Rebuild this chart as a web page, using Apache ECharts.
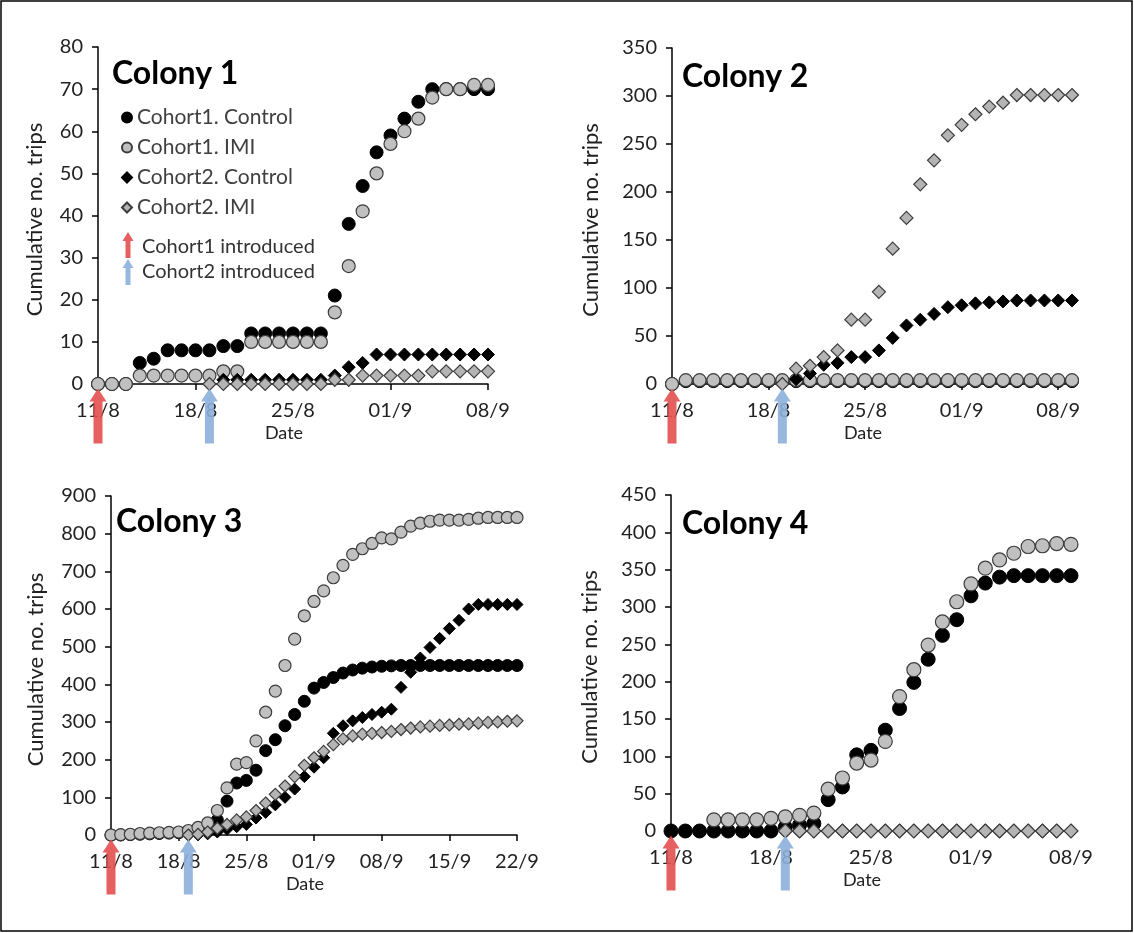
<!DOCTYPE html>
<html><head><meta charset="utf-8">
<script src="https://cdn.jsdelivr.net/npm/echarts@6/dist/echarts.min.js"></script>
<style>html,body{margin:0;padding:0;background:#fff}#c{width:1134px;height:933px}</style>
</head><body><div id="c"></div>
<script>
// ---------- data ----------
const seriesNames = ['Cohort1. Control', 'Cohort1. IMI', 'Cohort2. Control', 'Cohort2. IMI'];
const colonyTitles = ['Colony 1', 'Colony 2', 'Colony 3', 'Colony 4'];
const tickLabelsShort = ['11/8', '18/8', '25/8', '01/9', '08/9'];
const tickLabelsLong = ['11/8', '18/8', '25/8', '01/9', '08/9', '15/9', '22/9'];
const introDays = [0, 8];           // Cohort1 introduced 11/8, Cohort2 introduced 19/8
const introLabels = ['Cohort1 introduced', 'Cohort2 introduced'];
const lastDay = [28, 29, 42, 28];   // day index of the last date on each x axis (day 0 = 11/8)
const yMax = [80, 350, 900, 450];
const yStep = [10, 50, 100, 50];

// Colony 1 (day 0 = 11/8)
const c1Cohort1Control = [0,0,0,5,6,8,8,8,8,9,9,12,12,12,12,12,12,21,38,47,55,59,63,67,70,70,70,70,70];
const c1Cohort1IMI     = [0,0,0,2,2,2,2,2,2,3,3,10,10,10,10,10,10,17,28,41,50,57,60,63,68,70,70,71,71];
const c1Cohort2Control = [null,null,null,null,null,null,null,null,0,1,1,1,1,1,1,1,1,2,4,5,7,7,7,7,7,7,7,7,7];
const c1Cohort2IMI     = [null,null,null,null,null,null,null,null,0,0,0,0,0,0,0,0,0,1,1,2,2,2,2,2,3,3,3,3,3];

// Colony 2
const c2Cohort1Control = [0,3,3,3,3,3,3,3,3,3,3,3,3,3,3,3,3,3,3,3,3,3,3,3,3,3,3,3,3,3];
const c2Cohort1IMI     = [0,4,4,4,4,4,4,4,4,4,4,4,4,4,4,4,4,4,4,4,4,4,4,4,4,4,4,4,4,4];
const c2Cohort2Control = [null,null,null,null,null,null,null,null,0,5,11,20,22,28,28,35,48,61,67,73,80,82,84,85,86,87,87,87,87,87];
const c2Cohort2IMI     = [null,null,null,null,null,null,null,null,0,16,19,28,35,67,67,96,141,173,208,233,259,270,281,289,293,301,301,301,301,301];

// Colony 3
const c3Cohort1Control = [0,0,1,2,3,4,5,6,8,12,20,40,90,138,145,172,224,253,290,320,355,390,405,418,430,438,443,446,448,449,450,450,450,450,450,450,450,450,450,450,450,450,450];
const c3Cohort1IMI     = [0,1,2,4,5,6,7,8,12,20,32,65,125,188,192,250,326,382,450,520,582,620,648,683,716,745,760,774,789,786,804,820,828,833,836,836,836,838,841,843,843,843,843];
const c3Cohort2Control = [null,null,null,null,null,null,null,null,0,0,3,8,15,22,28,45,60,80,100,122,155,180,205,270,290,303,312,320,326,334,392,432,470,498,522,548,570,600,612,612,612,612,612];
const c3Cohort2IMI     = [null,null,null,null,null,null,null,null,0,2,8,18,28,40,48,65,85,108,130,155,185,205,222,240,255,263,268,270,272,275,280,284,287,289,291,292,294,295,297,299,300,302,303];

// Colony 4
const c4Cohort1Control = [0,0,0,0,0,0,0,0,5,8,10,42,59,102,108,135,164,199,230,262,283,315,332,340,342,342,342,342,342];
const c4Cohort1IMI     = [null,null,null,15,15,15,15,17,19,21,24,56,71,91,95,120,180,216,249,280,307,331,352,363,372,381,382,385,384];
const c4Cohort2Control = [null,null,null,null,null,null,null,null,0,0,0,0,0,0,0,0,0,0,0,0,0,0,0,0,0,0,0,0,0];
const c4Cohort2IMI     = [null,null,null,null,null,null,null,null,0,0,0,0,0,0,0,0,0,0,0,0,0,0,0,0,0,0,0,0,0];

const colonies = [
  [c1Cohort1Control, c1Cohort1IMI, c1Cohort2Control, c1Cohort2IMI],
  [c2Cohort1Control, c2Cohort1IMI, c2Cohort2Control, c2Cohort2IMI],
  [c3Cohort1Control, c3Cohort1IMI, c3Cohort2Control, c3Cohort2IMI],
  [c4Cohort1Control, c4Cohort1IMI, c4Cohort2Control, c4Cohort2IMI]
];
const tickSets = [tickLabelsShort, tickLabelsShort, tickLabelsLong, tickLabelsShort];

// ---------- layout / style ----------
const FONT = 'Lato';
const grids = [
  {left: 98,  top: 47,  width: 390, height: 337},
  {left: 672, top: 48,  width: 400, height: 336},
  {left: 111, top: 496, width: 406, height: 339},
  {left: 671, top: 495, width: 400, height: 336}
];
const markerSize = [13, 13, 12, 14];
const yNameGap = [52, 70, 64, 70];
const titlePos = [[112, 58], [682, 61], [116, 506], [682, 508]];
const styles = [
  {symbol: 'circle',  color: '#000000', borderColor: '#000000', borderWidth: 1},
  {symbol: 'circle',  color: '#c0c0c0', borderColor: '#3c3c3c', borderWidth: 1.2},
  {symbol: 'diamond', color: '#000000', borderColor: '#000000', borderWidth: 1},
  {symbol: 'diamond', color: '#b4b4b4', borderColor: '#3c3c3c', borderWidth: 1.2}
];
const arrowColors = ['#e44f4f', '#8cafdc'];
const arrowPath = 'path://M8.5,0 L17,13 L13,13 L13,55 L4,55 L4,13 L0,13 Z';

const toPairs = arr => arr.map((v, i) => [i, v]).filter(p => p[1] != null);

const xAxes = [], yAxes = [], series = [];
grids.forEach((g, k) => {
  const ticks = tickSets[k];
  const tickVals = ticks.map((_, i) => i * 7);
  xAxes.push({
    gridIndex: k, type: 'value', min: 0, max: lastDay[k], interval: 7,
    name: 'Date', nameLocation: 'middle', nameGap: 40,
    nameTextStyle: {fontFamily: FONT, fontSize: 18, color: '#222', padding: [0, 18, 0, 0]},
    axisLine: {show: true, onZero: false, lineStyle: {color: '#000', width: 1.5}},
    axisTick: {show: true, inside: false, length: 6, customValues: tickVals, lineStyle: {color: '#000', width: 1.5}},
    axisLabel: {customValues: tickVals, margin: 17, fontFamily: FONT, fontSize: 20, color: '#222',
      formatter: v => ticks[Math.round(v / 7)] || ''},
    splitLine: {show: false}
  });
  yAxes.push({
    gridIndex: k, type: 'value', min: 0, max: yMax[k], interval: yStep[k],
    name: 'Cumulative no. trips', nameLocation: 'middle', nameGap: yNameGap[k], nameRotate: 90,
    nameTextStyle: {fontFamily: FONT, fontSize: 22, color: '#222', padding: [0, 8, 0, 0]},
    axisLine: {show: true, lineStyle: {color: '#000', width: 1.5}},
    axisTick: {show: true, inside: false, length: 6, lineStyle: {color: '#000', width: 1.5}},
    axisLabel: {margin: 15, fontFamily: FONT, fontSize: 20, color: '#222'},
    splitLine: {show: false}
  });
  colonies[k].forEach((arr, s) => {
    const st = styles[s];
    const ser = {
      name: seriesNames[s], type: 'scatter', xAxisIndex: k, yAxisIndex: k,
      symbol: st.symbol, symbolSize: markerSize[k], clip: false,
      itemStyle: {color: st.color, borderColor: st.borderColor, borderWidth: st.borderWidth, opacity: 1},
      emphasis: {disabled: true},
      data: toPairs(arr), z: 2 + s
    };
    if (s === 0) {
      ser.markPoint = {
        symbol: arrowPath, symbolSize: [17, 55], symbolOffset: [0, 32], symbolKeepAspect: false,
        label: {show: false}, z: 10, silent: true,
        data: introDays.map((d, i) => ({coord: [d, 0], itemStyle: {color: arrowColors[i], borderWidth: 0, opacity: 0.9}}))
      };
    }
    series.push(ser);
  });
});

const titles = colonyTitles.map((t, k) => ({
  text: t, left: titlePos[k][0], top: titlePos[k][1], padding: 0,
  textStyle: {fontFamily: FONT, fontWeight: 'bold', fontSize: 32, color: '#000'}
}));

const legendArrow = (cx, top, color) => ({
  type: 'polygon', silent: true,
  shape: {points: [[cx, top], [cx + 5.5, top + 9], [cx + 2.5, top + 9], [cx + 2.5, top + 26], [cx - 2.5, top + 26], [cx - 2.5, top + 9], [cx - 5.5, top + 9]]},
  style: {fill: color, opacity: 0.9}
});
const graphic = [
  {type: 'rect', silent: true, shape: {x: 1, y: 1, width: 1131, height: 930}, style: {fill: 'none', stroke: '#000', lineWidth: 1.5}},
  legendArrow(128, 232, arrowColors[0]),
  legendArrow(128, 259, arrowColors[1]),
  {type: 'text', left: 142, top: 237, style: {text: introLabels[0], font: '20px ' + FONT, fill: '#333'}},
  {type: 'text', left: 142, top: 262, style: {text: introLabels[1], font: '20px ' + FONT, fill: '#333'}}
];

const chart = echarts.init(document.getElementById('c'), null, {renderer: 'canvas'});
chart.setOption({
  backgroundColor: '#fff',
  animation: false,
  title: titles,
  grid: grids.map(g => Object.assign({containLabel: false}, g)),
  xAxis: xAxes,
  yAxis: yAxes,
  legend: {
    left: 116, top: 102, orient: 'vertical', itemGap: 9, itemWidth: 10, itemHeight: 10,
    selectedMode: false, data: seriesNames,
    textStyle: {fontFamily: FONT, fontSize: 21, color: '#404040'}
  },
  graphic: graphic,
  series: series
});
</script>
</body></html>
